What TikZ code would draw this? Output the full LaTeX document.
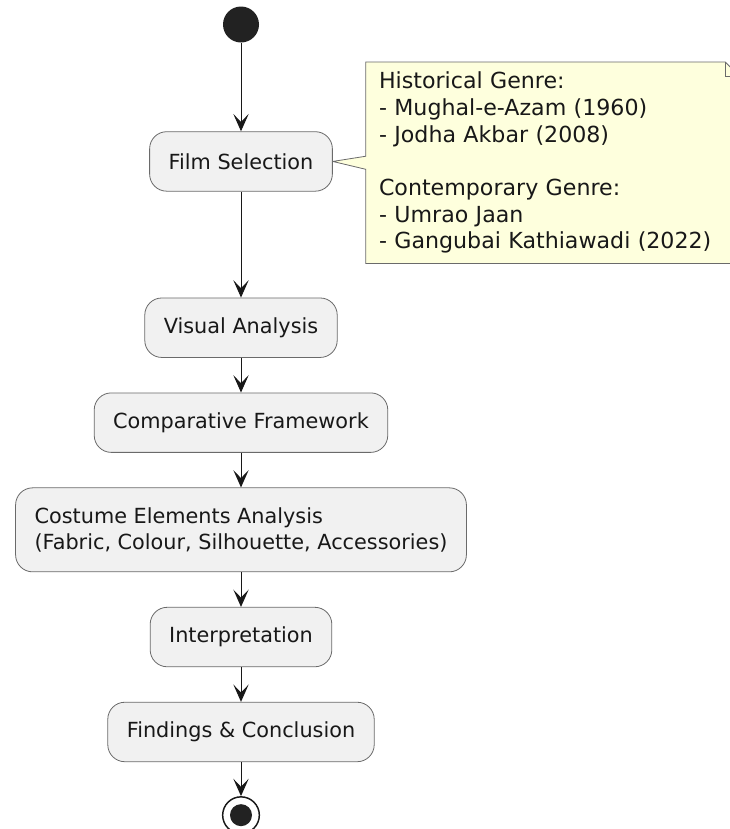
\documentclass[tikz,border=0pt]{standalone}
\usepackage{fontspec}
\setmainfont{DejaVu Sans}
\usetikzlibrary{positioning, arrows.meta, backgrounds}
\definecolor{actfill}{HTML}{F1F1F1}
\definecolor{notefill}{HTML}{FEFFDD}
\definecolor{inkclr}{HTML}{181818}
\definecolor{edgeclr}{HTML}{6A6A6A}
\definecolor{dotclr}{HTML}{222222}

\tikzset{
    act/.style={rectangle, rounded corners=12.75pt, draw=edgeclr, line width=0.6pt,
        fill=actfill, text=inkclr, inner xsep=14.25pt, inner ysep=0pt, minimum height=44.6pt},
    flow/.style={-{Stealth[length=13pt, width=11.5pt, inset=6pt]}, draw=inkclr, line width=0.75pt},
    startdot/.style={circle, fill=dotclr, inner sep=0pt, minimum size=27pt},
    endring/.style={circle, draw=inkclr, line width=1.1pt, fill=white, inner sep=0pt, minimum size=27.5pt},
    enddot/.style={circle, fill=dotclr, inner sep=0pt, minimum size=16.5pt},
    notetext/.style={rectangle, text=inkclr, align=left, text width=260.25pt,
        font=\fontsize{16.6}{20}\selectfont,
        inner xsep=9.75pt, inner ysep=0pt, minimum height=150.75pt},
    noteshape/.style={fill=notefill, draw=edgeclr, line width=0.6pt}
}

\begin{document}
\begin{tikzpicture}[x=0.75pt, y=-0.75pt, font=\fontsize{15.6}{20}\selectfont]
    \useasboundingbox (0,0) rectangle (730,829);
    \node[startdot] (start) at (241,24.5) {};
    \node[act, below=66.4pt of start] (film) {Film Selection};
    \node[act, below=79.5pt of film] (visual) {Visual Analysis};
    \node[act, below=26pt of visual] (compare) {Comparative Framework};
    \node[act, below=26pt of compare, align=left, minimum height=63pt] (costume) {Costume Elements Analysis\\(Fabric, Colour, Silhouette, Accessories)};
    \node[act, below=26pt of costume] (interp) {Interpretation};
    \node[act, below=26pt of interp] (findings) {Findings \& Conclusion};
    \node[endring, below=25.5pt of findings] (finish) {};
    \node[enddot] (finishdot) at (finish) {};

    % note beside the film selection
    \node[notetext, right=24.75pt of film, yshift=-1pt] (note) {Historical Genre:\\- Mughal-e-Azam (1960)\\- Jodha Akbar (2008)\\[20pt]Contemporary Genre:\\- Umrao Jaan\\- Gangubai Kathiawadi (2022)};
    \begin{scope}[on background layer]
        \draw[noteshape] (note.north west) -- ([xshift=-10.5pt]note.north east) -- ([yshift=-10.5pt]note.north east)
            -- (note.south east) -- (note.south west) -- ([yshift=-4.9pt]note.west) -- (film.east)
            -- ([yshift=4.9pt]note.west) -- cycle;
        \draw[draw=edgeclr, line width=0.6pt] ([xshift=-10.5pt]note.north east) |- ([yshift=-10.5pt]note.north east);
    \end{scope}

    \draw[flow] (start) -- (film);
    \draw[flow] (film) -- (visual);
    \draw[flow] (visual) -- (compare);
    \draw[flow] (compare) -- (costume);
    \draw[flow] (costume) -- (interp);
    \draw[flow] (interp) -- (findings);
    \draw[flow] (findings) -- (finish);
\end{tikzpicture}
\end{document}
